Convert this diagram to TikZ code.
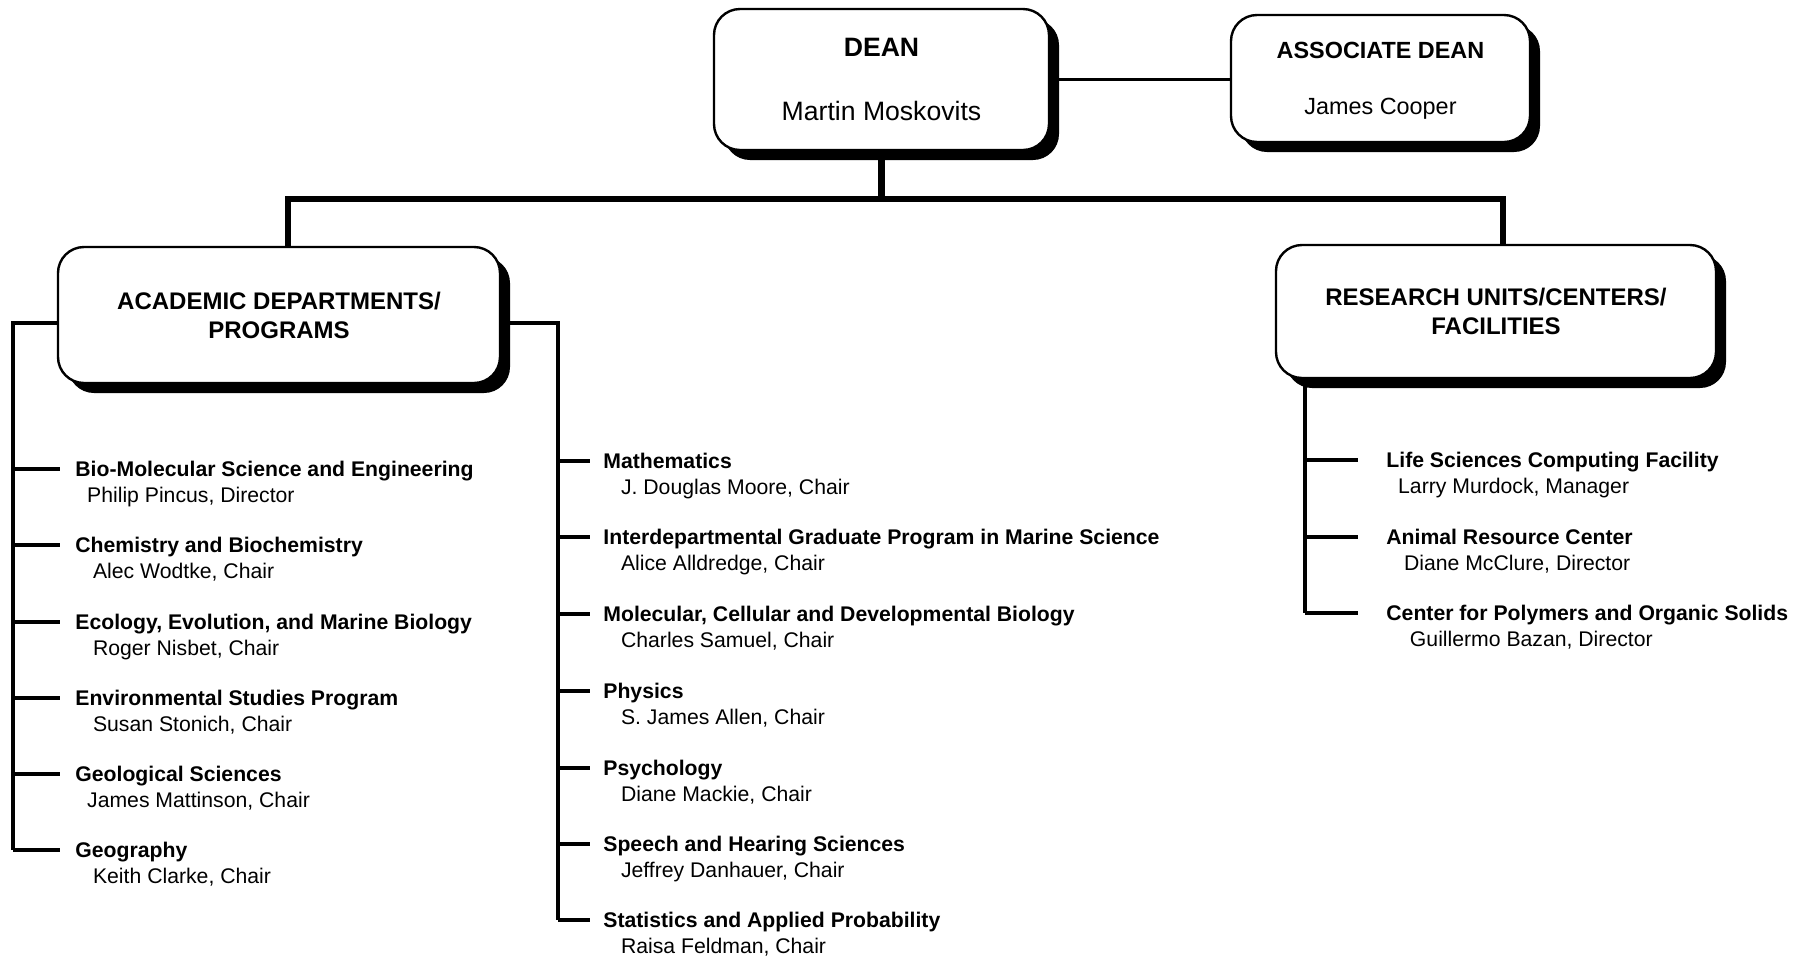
\documentclass[tikz,border=0pt]{standalone}
\usepackage{fontspec}
\setmainfont{Liberation Sans}
\usetikzlibrary{positioning,shadows}

\tikzset{
	unitbox/.style={draw, line width=1.2pt, fill=white, rounded corners=13pt, align=center,
			drop shadow={shadow xshift=5pt, shadow yshift=-5pt, fill=black, opacity=1}},
	dept/.style={anchor=west, inner sep=0pt, text height=7.6pt, text depth=0pt,
			font=\bfseries\fontsize{10.6}{13}\selectfont},
	chair/.style={anchor=base west, inner sep=0pt, font=\fontsize{10.6}{13}\selectfont},
	branch/.style={line width=1.7pt},
	busline/.style={line width=3.2pt}
}

\begin{document}
\begin{tikzpicture}[x=0.5pt, y=-0.5pt]
	\useasboundingbox (0,0) rectangle (1811,960);

	% top of the chart
	\node[unitbox, minimum width=167.5pt, minimum height=70.5pt,
		font=\fontsize{13.3}{15}\selectfont] (dean) at (881.5,79.5)
		{\textbf{DEAN}\\[17pt]Martin Moskovits};
	\node[unitbox, minimum width=149.5pt, minimum height=63.5pt,
		font=\fontsize{11.7}{14}\selectfont] (assoc) at (1380.5,78.5)
		{\rule{0pt}{10.7pt}\textbf{ASSOCIATE DEAN}\\[14pt]James Cooper};
	\node[unitbox, minimum width=221pt, minimum height=68pt,
		font=\bfseries\fontsize{12}{14.5}\selectfont] (acad) at (279,315)
		{ACADEMIC DEPARTMENTS/\\PROGRAMS};
	\node[unitbox, minimum width=220pt, minimum height=66.5pt,
		font=\bfseries\fontsize{12}{14.5}\selectfont] (research) at (1496,311.5)
		{RESEARCH UNITS/CENTERS/\\FACILITIES};

	\coordinate (bus) at (0,199);
	\draw[line width=1.9pt] (dean.east) -- (dean.east -| assoc.west);
	\draw[busline] (dean.south) -- (dean.south |- bus);
	\draw[busline] ([xshift=4.5pt]acad.north) |- ([xshift=3.5pt]research.north |- bus)
		-- ([xshift=3.5pt]research.north);

	% academic departments, left column
	\node[dept] (bmse) at (75,469) {Bio-Molecular Science and Engineering};
	\node[chair] (bmsep) at ([yshift=-13pt]bmse.base west) {~~Philip Pincus, Director};
	\node[dept] (chem) at (75,545) {Chemistry and Biochemistry};
	\node[chair] (chemp) at ([yshift=-13pt]chem.base west) {~~~Alec Wodtke, Chair};
	\node[dept] (eemb) at (75,622) {Ecology, Evolution, and Marine Biology};
	\node[chair] (eembp) at ([yshift=-13pt]eemb.base west) {~~~Roger Nisbet, Chair};
	\node[dept] (envs) at (75,698) {Environmental Studies Program};
	\node[chair] (envsp) at ([yshift=-13pt]envs.base west) {~~~Susan Stonich, Chair};
	\node[dept] (geol) at (75,774) {Geological Sciences};
	\node[chair] (geolp) at ([yshift=-13pt]geol.base west) {~~James Mattinson, Chair};
	\node[dept] (geog) at (75,850) {Geography};
	\node[chair] (geogp) at ([yshift=-13pt]geog.base west) {~~~Keith Clarke, Chair};

	% academic departments, right column
	\node[dept] (math) at (603,461) {Mathematics};
	\node[chair] (mathp) at ([yshift=-13pt]math.base west) {~~~J. Douglas Moore, Chair};
	\node[dept] (igpms) at (603,537) {Interdepartmental Graduate Program in Marine Science};
	\node[chair] (igpmsp) at ([yshift=-13pt]igpms.base west) {~~~Alice Alldredge, Chair};
	\node[dept] (mcdb) at (603,614) {Molecular, Cellular and Developmental Biology};
	\node[chair] (mcdbp) at ([yshift=-13pt]mcdb.base west) {~~~Charles Samuel, Chair};
	\node[dept] (phys) at (603,691) {Physics};
	\node[chair] (physp) at ([yshift=-13pt]phys.base west) {~~~S. James Allen, Chair};
	\node[dept] (psych) at (603,768) {Psychology};
	\node[chair] (psychp) at ([yshift=-13pt]psych.base west) {~~~Diane Mackie, Chair};
	\node[dept] (shs) at (603,844) {Speech and Hearing Sciences};
	\node[chair] (shsp) at ([yshift=-13pt]shs.base west) {~~~Jeffrey Danhauer, Chair};
	\node[dept] (pstat) at (603,920) {Statistics and Applied Probability};
	\node[chair] (pstatp) at ([yshift=-13pt]pstat.base west) {~~~Raisa Feldman, Chair};

	% research units
	\node[dept] (lscf) at (1386,460) {Life Sciences Computing Facility};
	\node[chair] (lscfp) at ([yshift=-13pt]lscf.base west) {~~Larry Murdock, Manager};
	\node[dept] (arc) at (1386,537) {Animal Resource Center};
	\node[chair] (arcp) at ([yshift=-13pt]arc.base west) {~~~Diane McClure, Director};
	\node[dept] (cpos) at (1386,613) {Center for Polymers and Organic Solids};
	\node[chair] (cposp) at ([yshift=-13pt]cpos.base west) {~~~~Guillermo Bazan, Director};

	% brackets
	\coordinate (lspine) at (13,323);
	\coordinate (mspine) at (558,323);
	\coordinate (rspine) at (1305,378);
	\draw[branch] ([yshift=-4pt]acad.west) -| (lspine |- geog.west);
	\draw[branch] (lspine |- bmse.west) -- ([xshift=-7.5pt]bmse.west)
		(lspine |- chem.west) -- ([xshift=-7.5pt]chem.west)
		(lspine |- eemb.west) -- ([xshift=-7.5pt]eemb.west)
		(lspine |- envs.west) -- ([xshift=-7.5pt]envs.west)
		(lspine |- geol.west) -- ([xshift=-7.5pt]geol.west)
		(lspine |- geog.west) -- ([xshift=-7.5pt]geog.west);
	\draw[branch] ([yshift=-4pt]acad.east) -| (mspine |- pstat.west);
	\draw[branch] (mspine |- math.west) -- ([xshift=-6.5pt]math.west)
		(mspine |- igpms.west) -- ([xshift=-6.5pt]igpms.west)
		(mspine |- mcdb.west) -- ([xshift=-6.5pt]mcdb.west)
		(mspine |- phys.west) -- ([xshift=-6.5pt]phys.west)
		(mspine |- psych.west) -- ([xshift=-6.5pt]psych.west)
		(mspine |- shs.west) -- ([xshift=-6.5pt]shs.west)
		(mspine |- pstat.west) -- ([xshift=-6.5pt]pstat.west);
	\draw[branch] (rspine) -- (rspine |- cpos.west);
	\draw[branch] (rspine |- lscf.west) -- ([xshift=-14pt]lscf.west)
		(rspine |- arc.west) -- ([xshift=-14pt]arc.west)
		(rspine |- cpos.west) -- ([xshift=-14pt]cpos.west);
\end{tikzpicture}
\end{document}
